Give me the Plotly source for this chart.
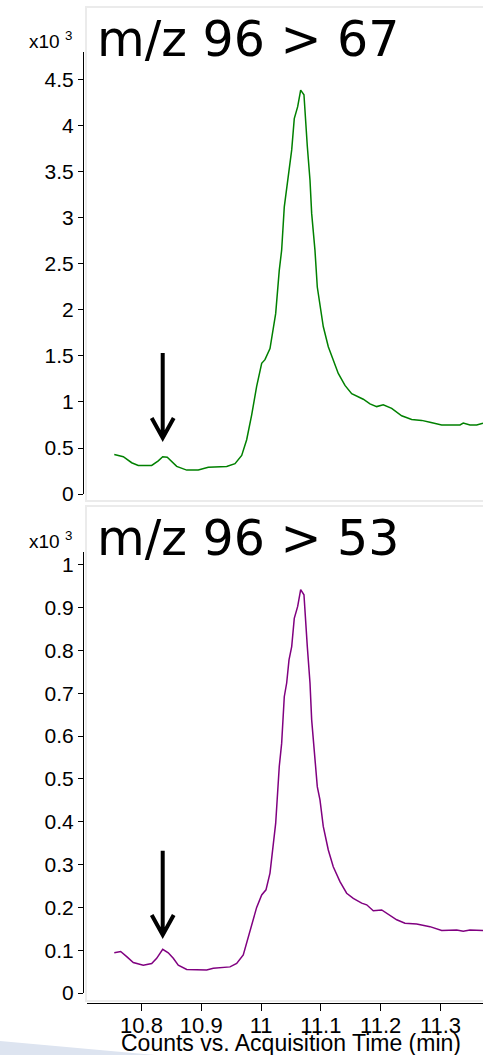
import plotly.graph_objects as go

W, H = 483, 1055

# ---- data (time in min, counts in x10^3) ----
time_67 = [10.7545, 10.7696, 10.7836, 10.7946, 10.8171, 10.8281, 10.8355, 10.8431, 10.8589, 10.8756,
           10.8950, 10.9117, 10.9425, 10.9564, 10.9676, 10.9759, 10.9843, 10.9926, 11.0010, 11.0065,
           11.0149, 11.0204, 11.0244, 11.0304, 11.0344, 11.0388, 11.0428, 11.0467, 11.0512, 11.0555,
           11.0612, 11.0662, 11.0717, 11.0773, 11.0818, 11.0846, 11.0901, 11.0940, 11.0985, 11.1040,
           11.1124, 11.1207, 11.1291, 11.1403, 11.1515, 11.1709, 11.1821, 11.1933, 11.2043, 11.2184,
           11.2351, 11.2518, 11.2686, 11.2824, 11.3020, 11.3326, 11.3381, 11.3493, 11.3605, 11.3711]
counts_67 = [0.43, 0.405, 0.34, 0.31, 0.31, 0.36, 0.405, 0.40, 0.30, 0.26,
             0.26, 0.29, 0.30, 0.33, 0.42, 0.59, 0.86, 1.17, 1.42, 1.46,
             1.58, 1.82, 1.96, 2.43, 2.65, 3.12, 3.34, 3.56, 3.74, 4.08,
             4.21, 4.39, 4.34, 3.78, 3.41, 3.05, 2.65, 2.25, 2.07, 1.82,
             1.60, 1.46, 1.31, 1.18, 1.09, 1.03, 0.98, 0.95, 0.97, 0.93,
             0.85, 0.81, 0.80, 0.78, 0.75, 0.75, 0.77, 0.75, 0.75, 0.77]

time_53 = [10.7545, 10.7652, 10.7753, 10.7863, 10.8030, 10.8171, 10.8254, 10.8355, 10.8448, 10.8532,
           10.8615, 10.8756, 10.9090, 10.9201, 10.9480, 10.9592, 10.9702, 10.9786, 10.9870, 10.9926,
           11.0010, 11.0082, 11.0149, 11.0204, 11.0244, 11.0304, 11.0344, 11.0388, 11.0428, 11.0467,
           11.0512, 11.0555, 11.0612, 11.0662, 11.0717, 11.0773, 11.0818, 11.0846, 11.0890, 11.0940,
           11.0985, 11.1040, 11.1124, 11.1207, 11.1319, 11.1431, 11.1542, 11.1682, 11.1766, 11.1876,
           11.2017, 11.2156, 11.2268, 11.2406, 11.2602, 11.2824, 11.3020, 11.3271, 11.3381, 11.3493,
           11.3711]
counts_53 = [0.094, 0.097, 0.085, 0.071, 0.065, 0.069, 0.081, 0.102, 0.094, 0.081,
             0.065, 0.055, 0.054, 0.058, 0.061, 0.069, 0.089, 0.132, 0.178, 0.200,
             0.229, 0.241, 0.280, 0.350, 0.396, 0.529, 0.583, 0.692, 0.724, 0.778,
             0.809, 0.875, 0.903, 0.942, 0.930, 0.809, 0.724, 0.638, 0.568, 0.482,
             0.451, 0.389, 0.334, 0.295, 0.260, 0.233, 0.221, 0.210, 0.206, 0.192,
             0.194, 0.182, 0.171, 0.163, 0.161, 0.155, 0.146, 0.147, 0.144, 0.147,
             0.146]

x_ticks = [10.8, 10.9, 11.0, 11.1, 11.2, 11.3]
x_tick_labels = ["10.8", "10.9", "11", "11.1", "11.2", "11.3"]
y1_ticks = [0, 0.5, 1, 1.5, 2, 2.5, 3, 3.5, 4, 4.5]
y1_tick_labels = ["0", "0.5", "1", "1.5", "2", "2.5", "3", "3.5", "4", "4.5"]
y2_ticks = [0, 0.1, 0.2, 0.3, 0.4, 0.5, 0.6, 0.7, 0.8, 0.9, 1.0]
y2_tick_labels = ["0", "0.1", "0.2", "0.3", "0.4", "0.5", "0.6", "0.7", "0.8", "0.9", "1"]

titles = ["m/z 96 > 67", "m/z 96 > 53"]
x_title = "Counts vs. Acquisition Time (min)"
marked_peak_time = 10.8355

# ---- layout helpers (figure pixel -> paper fraction; margins are zero) ----
def px(x):
    return x / W

def py(y):
    return 1 - y / H

x_range = [10.7089, 11.3711]
FONT = "Liberation Sans, Arial"
tick_font = dict(family=FONT, size=21, color="black")

fig = go.Figure()
fig.add_trace(go.Scatter(x=time_67, y=counts_67, mode="lines", hoverinfo="skip",
                         line=dict(color="#008000", width=1.5), xaxis="x", yaxis="y"))
fig.add_trace(go.Scatter(x=time_53, y=counts_53, mode="lines", hoverinfo="skip",
                         line=dict(color="#800080", width=1.5), xaxis="x2", yaxis="y2"))

yax_common = dict(anchor="free", position=px(83), showline=True, linecolor="black", linewidth=1,
                  ticks="outside", ticklen=5, tickcolor="black", tickwidth=1, automargin=False,
                  showgrid=False, zeroline=False, tickfont=tick_font, fixedrange=True)

fig.update_layout(
    width=W, height=H, margin=dict(l=0, r=0, t=0, b=0, pad=0, autoexpand=False),
    paper_bgcolor="white", plot_bgcolor="rgba(0,0,0,0)", showlegend=False,
    xaxis=dict(domain=[px(87), 1], range=x_range, visible=False, anchor="y",
               automargin=False, fixedrange=True),
    xaxis2=dict(domain=[px(87), 1], range=x_range, anchor="free", position=py(1003),
                showline=True, linecolor="black", linewidth=1, ticks="outside", ticklen=7,
                tickcolor="black", tickvals=x_ticks, ticktext=x_tick_labels,
                showgrid=False, zeroline=False, ticklabelstandoff=-4, automargin=False,
                fixedrange=True, tickfont=dict(family=FONT, size=22, color="black")),
    yaxis=dict(domain=[py(494), py(52)], range=[0, 4.804], tickvals=y1_ticks,
               ticktext=y1_tick_labels, **yax_common),
    yaxis2=dict(domain=[py(993), py(552)], range=[0, 1.030], tickvals=y2_ticks,
                ticktext=y2_tick_labels, **yax_common),
)

shapes = []
# panel frames
for top, bot in [(7, 501), (506, 1001)]:
    shapes.append(dict(type="rect", xref="paper", yref="paper", x0=px(86), x1=px(495),
                       y0=py(bot), y1=py(top), line=dict(color="#ebebeb", width=2),
                       fillcolor="rgba(0,0,0,0)", layer="below"))
# decorative swoosh bottom-left
shapes.append(dict(type="path", xref="paper", yref="paper",
                   path=f"M 0,{py(1041)} L {px(155)},{py(1055)} L 0,{py(1055)} Z",
                   fillcolor="#dde4f0", line=dict(width=0), layer="below"))

# arrows pointing at the small peak (data coordinates)
def arrow(xref, yref, top, tip, head, half_w):
    t = marked_peak_time
    path = (f"M {t},{top} L {t},{tip} "
            f"M {t - half_w},{head} L {t},{tip} L {t + half_w},{head}")
    return dict(type="path", xref=xref, yref=yref, path=path,
                line=dict(color="black", width=4))

shapes.append(arrow("x", "y", 1.533, 0.609, 0.826, 0.0184))
shapes.append(arrow("x2", "y2", 0.332, 0.1355, 0.182, 0.0184))
fig.update_layout(shapes=shapes)

annotations = []
for title, yc in zip(titles, [39, 539]):
    annotations.append(dict(text=title, xref="paper", yref="paper", x=px(95), y=py(yc),
                            xanchor="left", yanchor="middle", showarrow=False,
                            font=dict(family="DejaVu Sans", size=49, color="black")))
for yc in [40, 540]:
    annotations.append(dict(text="x10 <sup>3</sup>", xref="paper", yref="paper", x=px(74),
                            y=py(yc), xanchor="right", yanchor="middle", showarrow=False,
                            font=dict(family=FONT, size=19, color="black")))
annotations.append(dict(text=x_title, xref="paper", yref="paper", x=px(291), y=py(1043),
                        xanchor="center", yanchor="middle", showarrow=False,
                        font=dict(family=FONT, size=23, color="black")))
fig.update_layout(annotations=annotations)

fig.write_html("out.html", config={"displayModeBar": False},
               post_script="document.body.style.margin='0px';")
